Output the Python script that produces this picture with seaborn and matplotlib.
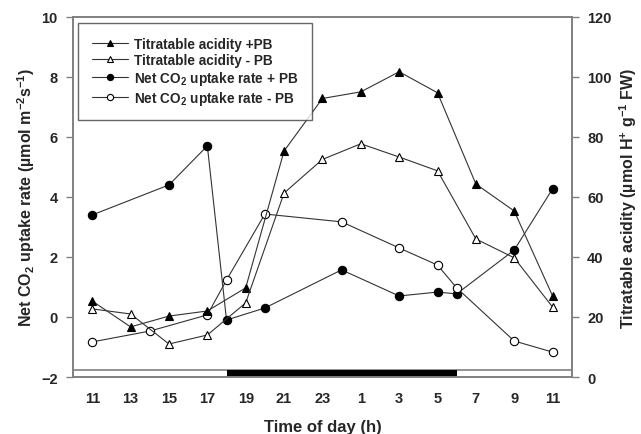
import pandas as pd
import matplotlib.pyplot as plt
import seaborn as sns

sns.set_style("white")
plt.rcParams['font.family'] = ['Liberation Sans', 'DejaVu Sans']
plt.rcParams['font.weight'] = 'bold'
plt.rcParams['axes.labelweight'] = 'bold'
plt.rcParams['mathtext.fontset'] = 'custom'
plt.rcParams['mathtext.rm'] = 'Liberation Sans:bold'
plt.rcParams['mathtext.default'] = 'rm'

# hours counted from 11:00 of the first day
tick_hours = list(range(0, 25, 2))
tick_labels = ['11', '13', '15', '17', '19', '21', '23', '1', '3', '5', '7', '9', '11']

acid_hours = [0, 2, 4, 6, 8, 10, 12, 14, 16, 18, 20, 22, 24]
acid_plus = [25.3, 16.7, 20.3, 22.0, 29.7, 75.3, 92.8, 95.0, 101.7, 94.7, 64.3, 55.3, 27.0]
acid_minus = [22.7, 21.0, 11.0, 14.0, 24.7, 61.3, 72.5, 77.7, 73.3, 68.7, 46.0, 39.7, 23.3]

co2_plus_hours = [0, 4, 6, 7, 9, 13, 16, 18, 19, 22, 24]
co2_plus = [3.4, 4.4, 5.7, -0.1, 0.3, 1.57, 0.7, 0.83, 0.77, 2.23, 4.27]
co2_minus_hours = [0, 3, 6, 7, 9, 13, 16, 18, 19, 22, 24]
co2_minus = [-0.83, -0.47, 0.07, 1.23, 3.43, 3.17, 2.3, 1.73, 0.97, -0.8, -1.17]

dark_period = [7, 19]  # 18:00 to 06:00

acid = pd.DataFrame({"h": acid_hours, "plus": acid_plus, "minus": acid_minus})
co2p = pd.DataFrame({"h": co2_plus_hours, "v": co2_plus})
co2m = pd.DataFrame({"h": co2_minus_hours, "v": co2_minus})

fig, ax = plt.subplots(figsize=(6.41, 4.35), dpi=100)
fig.subplots_adjust(left=0.114, right=0.892, bottom=0.131, top=0.959)
ax2 = ax.twinx()

line_kw = dict(color="#333333", linewidth=0.8, markersize=6, markeredgecolor="black",
               markeredgewidth=0.8, sort=False)

sns.lineplot(data=co2p, x="h", y="v", ax=ax, marker="o", markerfacecolor="black",
             label="Net CO$_2$ uptake rate + PB", legend=False, **line_kw)
sns.lineplot(data=co2m, x="h", y="v", ax=ax, marker="o", markerfacecolor="white",
             label="Net CO$_2$ uptake rate - PB", legend=False, **line_kw)
sns.lineplot(data=acid, x="h", y="plus", ax=ax2, marker="^", markerfacecolor="black",
             label="Titratable acidity +PB", legend=False, **line_kw)
sns.lineplot(data=acid, x="h", y="minus", ax=ax2, marker="^", markerfacecolor="white",
             label="Titratable acidity - PB", legend=False, **line_kw)

# light/dark bar
ax.fill_between([-1, 25], -2, -1.75, facecolor="white", edgecolor="none", zorder=0.5)
ax.axhline(-1.75, color="#808080", linewidth=1.2, zorder=0.6)
ax.fill_between(dark_period, -2, -1.75, facecolor="black", edgecolor="none", zorder=0.7)

ax.set_xlim(-1, 25)
ax.set_ylim(-2, 10)
ax2.set_ylim(0, 120)
ax.set_xticks(tick_hours)
ax.set_xticklabels(tick_labels)
ax.set_yticks(range(-2, 11, 2))
ax2.set_yticks(range(0, 121, 20))

for a in (ax, ax2):
    for s in a.spines.values():
        s.set_color("#808080")
        s.set_linewidth(1.2)
    a.tick_params(direction="out", length=5, width=1, color="#808080", labelsize=10.5,
                  pad=6)
ax.tick_params(axis="x", pad=5)

ax.set_xlabel("Time of day (h)", fontsize=12, labelpad=10)
ax.set_ylabel("Net CO$_2$ uptake rate (µmol m$^{-2}$s$^{-1}$)", fontsize=11.5, labelpad=3)
ax2.set_ylabel("Titratable acidity (µmol H$^{+}$ g$^{-1}$ FW)", fontsize=11.5, labelpad=4)

handles = ax2.get_lines()[:2] + ax.get_lines()[:2]
labels = [h.get_label() for h in handles]
leg = ax2.legend(handles, labels, loc="upper left", bbox_to_anchor=(0.01, 0.983),
                 borderaxespad=0, fontsize=9.8, frameon=True, fancybox=False,
                 handlelength=2.7, markerscale=0.75, labelspacing=0.15, borderpad=1.0,
                 handletextpad=0.4)
leg.get_frame().set_edgecolor("#404040")
leg.get_frame().set_linewidth(1.0)

fig.savefig("out.png", dpi=100)
